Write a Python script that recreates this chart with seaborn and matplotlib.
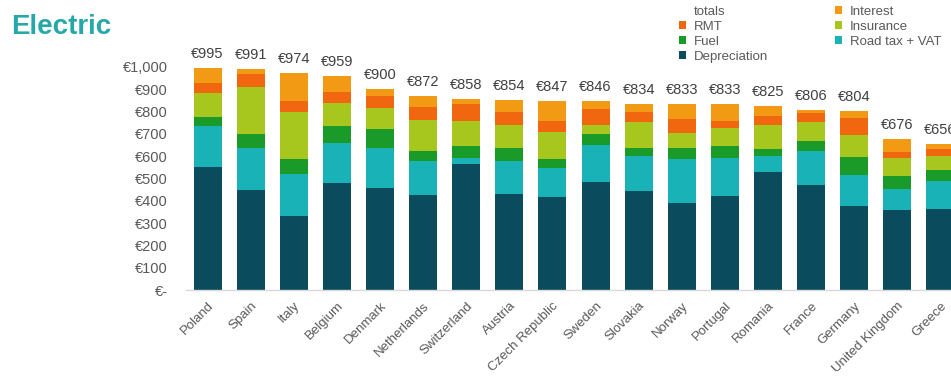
import matplotlib
matplotlib.use("Agg")
import matplotlib.pyplot as plt
import pandas as pd
import seaborn as sns
from matplotlib.patches import Patch

# Monthly cost of ownership per country, split by cost component (EUR)
countries = ["Poland", "Spain", "Italy", "Belgium", "Denmark", "Netherlands",
             "Switzerland", "Austria", "Czech Republic", "Sweden", "Slovakia",
             "Norway", "Portugal", "Romania", "France", "Germany",
             "United Kingdom", "Greece"]
depreciation = [553, 448, 331, 482, 456, 425, 563, 429, 419, 483, 442, 390, 421, 528, 473, 375, 358, 365]
road_tax_vat = [184, 189, 188, 178, 181, 155, 29, 151, 129, 166, 160, 197, 169, 74, 151, 141, 96, 126]
fuel = [37, 64, 67, 74, 85, 42, 52, 57, 41, 49, 37, 48, 57, 32, 44, 81, 55, 48]
insurance = [111, 210, 210, 103, 92, 141, 115, 101, 119, 44, 114, 68, 78, 105, 85, 97, 83, 63]
rmt = [44, 59, 52, 52, 56, 59, 77, 62, 51, 70, 44, 62, 32, 40, 41, 78, 28, 32]
interest = [66, 21, 126, 70, 30, 50, 22, 54, 88, 34, 37, 68, 76, 46, 12, 32, 56, 22]

y_ticks = list(range(0, 1001, 100))
y_tick_labels = ["€-"] + ["€{:,}".format(v) for v in y_ticks[1:]]

components = ["Depreciation", "Road tax + VAT", "Fuel", "Insurance", "RMT", "Interest"]
palette = {
    "Depreciation": "#0b4b5e",
    "Road tax + VAT": "#19b2b6",
    "Fuel": "#1a9a28",
    "Insurance": "#a7c71e",
    "RMT": "#f0670f",
    "Interest": "#f29a14",
}

sns.set_style("white")
plt.rcParams["font.family"] = ["Liberation Sans", "DejaVu Sans"]
text_grey = "#595959"

df = pd.DataFrame({
    "country": countries,
    "Depreciation": depreciation,
    "Road tax + VAT": road_tax_vat,
    "Fuel": fuel,
    "Insurance": insurance,
    "RMT": rmt,
    "Interest": interest,
})
stacked = df[components].cumsum(axis=1)
stacked["country"] = df["country"]
totals = stacked["Interest"]

fig = plt.figure(figsize=(9.51, 3.81), dpi=100)
ax = fig.add_axes([186 / 951, 1 - 290 / 381, 776 / 951, 223 / 381])

# Stacked bars: draw cumulative heights from the top layer down
for comp in reversed(components):
    sns.barplot(data=stacked, x="country", y=comp, order=countries,
                color=palette[comp], width=0.65, saturation=1,
                errorbar=None, linewidth=0, ax=ax)

for i, total in enumerate(totals):
    ax.annotate("€{:,}".format(int(total)), xy=(i, total), xytext=(0, 5),
                textcoords="offset points", ha="center", va="bottom",
                fontsize=10.5, color="#404040", annotation_clip=False)

ax.set_xlim(-0.5, 17.5)
ax.set_ylim(0, 1000)
ax.set_yticks(y_ticks)
ax.set_yticklabels(y_tick_labels, fontsize=10.5, color=text_grey)
ax.set_xticks(range(len(countries)))
ax.set_xticklabels(countries, rotation=45, ha="right", rotation_mode="anchor",
                   fontsize=9.5, color=text_grey)
ax.tick_params(axis="both", length=0)
ax.tick_params(axis="y", pad=13)
ax.tick_params(axis="x", pad=7)
ax.set_xlabel("")
ax.set_ylabel("")
for side in ["top", "right", "left"]:
    ax.spines[side].set_visible(False)
ax.spines["bottom"].set_color("#d9d9d9")
ax.spines["bottom"].set_linewidth(1)

fig.text(11 / 951, 1 - 27 / 381, "Electric", fontsize=20, fontweight="bold",
         color="#27a8a8", va="center", ha="left")

legend_labels = ["totals", "RMT", "Fuel", "Depreciation", "Interest", "Insurance", "Road tax + VAT"]
handles = [Patch(facecolor="none", edgecolor="none")]
handles += [Patch(facecolor=palette[name], edgecolor="none") for name in legend_labels[1:]]
fig.legend(handles, legend_labels, loc="upper left",
           bbox_to_anchor=(679 / 951, 1 - 6 / 381), ncol=2, frameon=False,
           fontsize=9.5, handlelength=0.55, handleheight=0.55,
           handletextpad=0.55, columnspacing=5.1, labelspacing=0.22,
           borderpad=0, borderaxespad=0, labelcolor=text_grey)

fig.savefig("out.png", dpi=100)
